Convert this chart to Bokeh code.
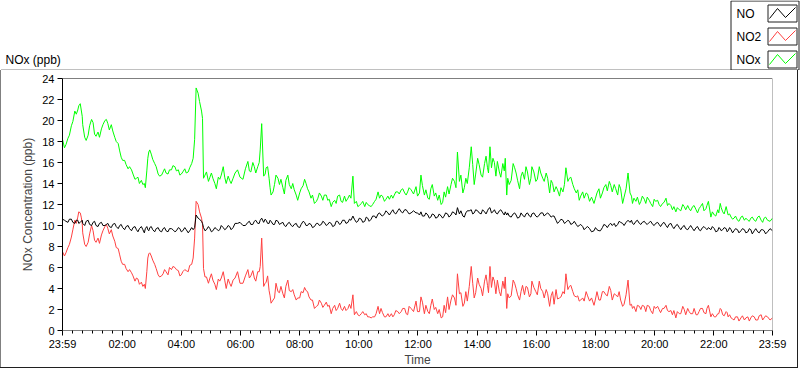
from bokeh.plotting import figure
from bokeh.layouts import column
from bokeh.models import FixedTicker, Span, Range1d
from bokeh.core.properties import value
from bokeh.embed import file_html
from bokeh.resources import INLINE

# ---------------- data (minutes after 23:59) ----------------
t_min = [0, 7, 14, 21, 28, 33, 38, 41, 48, 55, 62, 68, 75, 82, 89, 95, 102, 109, 116, 122,
         129, 136, 143, 150, 156, 163, 168, 173, 177, 183, 190, 197, 204, 210, 217, 224, 231, 238, 244, 251,
         258, 265, 268, 271, 275, 278, 282, 284, 286, 292, 299, 305, 312, 319, 326, 332, 339, 346,
         355, 366, 376, 382, 389, 396, 401, 404, 408, 413, 419, 423, 430, 437, 443, 450, 457, 464, 470, 477,
         484, 491, 497, 504, 511, 518, 525, 531, 538, 545, 552, 558, 565, 572, 579, 585, 589, 592, 599, 606,
         613, 619, 626, 633, 640, 646, 653, 660, 667, 673, 680, 687, 694, 700, 707,
         717, 724, 727, 734, 741, 747, 754, 761, 768, 774, 781, 788, 795, 801, 805, 812, 818, 825, 829, 835,
         842, 849, 856, 862, 867, 873, 879, 886, 893, 898, 901, 906, 914, 920, 927, 933, 940, 947, 952, 960,
         967, 974, 981, 988, 994, 1001, 1008, 1015, 1021, 1028, 1035, 1042, 1048, 1055, 1062, 1069,
         1078, 1084, 1088, 1095, 1102, 1109, 1115, 1119, 1126, 1132, 1136, 1143, 1147, 1151, 1156, 1163, 1170, 1176, 1183, 1190,
         1197, 1203, 1210, 1217, 1224, 1230, 1237, 1244, 1251, 1258, 1264, 1271, 1278, 1285, 1291, 1298, 1305, 1310, 1315, 1322,
         1329, 1334, 1339, 1346, 1350, 1356, 1362, 1369, 1376, 1383, 1390, 1396, 1403, 1410, 1417, 1423, 1430, 1440]

nox = [18.2, 17.7, 18.6, 19.9, 20.6, 21.4, 21.0, 19.6, 18.1, 19.5, 19.8, 18.5, 18.4, 19.6, 20.1, 19.1, 19.0, 18.0, 17.1, 16.2,
       15.8, 15.6, 14.9, 14.5, 14.0, 13.9, 13.6, 16.4, 17.2, 16.3, 15.6, 14.7, 15.1, 15.0, 15.3, 15.7, 15.2, 14.8, 15.1, 15.0,
       15.5, 16.4, 18.2, 23.1, 22.6, 21.8, 20.9, 20.2, 14.5, 15.1, 14.6, 14.5, 13.5, 14.4, 15.6, 14.0, 14.3, 14.5,
       15.3, 14.4, 16.1, 15.1, 15.6, 15.6, 17.2, 19.7, 14.7, 15.5, 14.5, 12.9, 13.9, 14.5, 14.4, 13.0, 14.8, 13.5, 13.4, 12.4,
       13.5, 14.4, 13.5, 12.6, 12.1, 12.6, 12.8, 12.9, 12.4, 11.8, 12.4, 12.8, 12.3, 12.8, 12.6, 12.6, 14.7, 12.1, 11.8, 12.1,
       11.8, 12.0, 11.8, 12.3, 13.2, 12.9, 12.3, 12.8, 12.9, 12.9, 13.2, 13.4, 13.1, 13.2, 13.4,
       13.7, 13.1, 14.8, 12.9, 12.6, 13.5, 12.8, 12.4, 12.0, 13.2, 13.7, 13.9, 14.2, 17.0, 14.2, 13.1, 14.5, 15.5, 17.5, 13.9,
       16.4, 14.8, 15.9, 15.5, 17.5, 16.4, 14.7, 15.1, 15.9, 16.4, 12.9, 13.9, 15.9, 15.0, 13.5, 15.1, 15.6, 13.9, 15.6, 14.2,
       15.6, 14.5, 15.0, 13.1, 14.0, 13.7, 12.8, 13.2, 15.5, 14.5, 13.9, 13.1, 12.4, 13.2, 13.1, 12.3,
       12.1, 13.1, 13.5, 13.1, 13.9, 14.2, 13.2, 13.9, 12.9, 13.5, 12.1, 13.5, 15.0, 13.1, 12.1, 12.3, 12.0, 12.8, 12.1, 12.4,
       11.8, 12.3, 12.0, 12.1, 12.6, 12.1, 11.5, 11.3, 11.5, 12.0, 11.5, 11.6, 11.8, 11.5, 11.6, 12.1, 11.6, 12.3, 10.8, 11.0,
       11.5, 12.1, 11.3, 11.8, 11.0, 10.8, 10.7, 10.5, 10.8, 10.5, 10.5, 10.7, 10.5, 10.8, 10.5, 10.7, 10.5, 10.7]

no2 = [7.5, 7.4, 8.2, 9.6, 10.2, 11.3, 10.8, 9.3, 8.0, 9.2, 9.5, 8.4, 8.3, 9.5, 10.1, 9.2, 9.0, 7.9, 7.2, 6.3,
       5.9, 5.8, 5.2, 5.0, 4.4, 4.2, 4.0, 6.9, 7.4, 6.7, 5.9, 5.1, 5.4, 5.6, 6.0, 6.1, 5.8, 5.2, 5.6, 5.7,
       6.2, 6.9, 8.8, 12.3, 12.0, 11.3, 10.7, 10.1, 5.9, 5.1, 5.0, 4.8, 3.9, 4.7, 5.6, 4.0, 4.5, 4.8,
       5.6, 4.5, 5.8, 5.2, 5.0, 5.6, 6.1, 8.8, 4.2, 4.6, 3.8, 2.6, 3.1, 3.7, 4.2, 3.1, 4.8, 3.7, 3.4, 3.1,
       3.7, 4.1, 3.7, 2.9, 2.1, 2.4, 2.6, 2.4, 2.3, 1.6, 2.4, 2.1, 2.1, 2.3, 2.1, 2.1, 3.4, 1.5, 1.5, 1.6,
       1.5, 1.3, 1.2, 1.3, 2.3, 2.1, 1.3, 1.6, 1.6, 1.5, 1.8, 1.8, 2.1, 1.5, 2.1,
       2.8, 1.8, 3.2, 1.6, 1.8, 2.4, 2.0, 1.6, 1.2, 2.4, 3.2, 2.9, 3.1, 5.4, 3.5, 2.3, 3.7, 4.2, 6.1, 3.1,
       5.0, 4.0, 4.7, 4.3, 6.1, 5.1, 3.5, 3.7, 4.7, 5.1, 2.1, 3.1, 4.8, 4.0, 2.9, 4.3, 4.2, 3.2, 4.7, 3.7,
       4.7, 3.7, 3.9, 2.3, 3.7, 3.9, 3.1, 3.7, 5.4, 4.2, 3.7, 3.2, 2.8, 3.1, 3.7, 2.8,
       2.4, 3.7, 2.9, 3.7, 3.4, 4.2, 2.9, 3.5, 3.2, 2.9, 2.3, 3.4, 4.8, 2.4, 2.1, 1.8, 2.3, 2.4, 1.8, 2.3,
       1.6, 2.1, 2.0, 2.1, 2.4, 1.8, 1.5, 1.2, 1.6, 2.3, 1.5, 1.8, 1.6, 1.5, 1.8, 2.1, 1.6, 2.4, 1.3, 1.3,
       1.6, 2.1, 1.5, 1.8, 1.3, 1.2, 1.0, 1.3, 1.2, 1.0, 1.3, 1.2, 1.3, 1.0, 1.5, 1.2, 1.3, 1.2]

no = [10.6, 10.4, 10.6, 10.3, 10.5, 10.2, 10.4, 10.2, 10.4, 10.1, 10.3, 10.0, 10.2, 10.0, 10.1, 9.9, 10.1, 9.9, 10.0, 9.8,
      9.9, 9.7, 9.8, 9.6, 9.7, 9.6, 9.7, 9.6, 9.8, 9.6, 9.7, 9.5, 9.7, 9.5, 9.7, 9.6, 9.5, 9.7, 9.5, 9.6,
      9.5, 9.6, 9.8, 11.0, 10.7, 10.6, 10.4, 10.2, 9.8, 9.6, 9.7, 9.5, 9.7, 9.6, 9.8, 9.7, 9.9, 9.8,
      10.2, 10.0, 10.3, 10.1, 10.4, 10.2, 10.5, 10.7, 10.3, 10.5, 10.2, 10.4, 10.1, 10.4, 10.2, 10.0, 10.2, 10.0, 10.1, 9.9,
      10.1, 10.3, 10.0, 10.1, 9.9, 10.2, 10.1, 10.3, 10.1, 10.2, 10.0, 10.4, 10.2, 10.5, 10.3, 10.5, 10.9, 10.6, 10.4, 10.6,
      10.4, 10.7, 10.6, 10.9, 11.1, 11.0, 11.1, 11.2, 11.3, 11.2, 11.4, 11.3, 11.5, 11.3, 11.2,
      11.2, 11.0, 11.3, 10.9, 11.0, 10.8, 11.0, 10.8, 10.9, 10.9, 11.1, 11.0, 11.2, 11.7, 11.1, 10.9, 11.2, 11.4, 11.5, 11.2,
      11.4, 11.1, 11.3, 11.4, 11.7, 11.3, 11.2, 11.4, 11.2, 11.3, 11.0, 10.9, 11.1, 11.0, 10.8, 11.0, 11.1, 10.9, 11.1, 10.9,
      11.0, 11.2, 11.1, 11.0, 10.9, 10.5, 10.4, 10.5, 10.3, 10.4, 10.2, 10.1, 10.0, 9.9, 9.8, 9.7,
      9.5, 9.6, 9.5, 9.8, 10.0, 10.1, 10.0, 10.2, 10.1, 10.3, 10.2, 10.3, 10.5, 10.3, 10.2, 10.4, 10.2, 10.3, 10.2, 10.3,
      10.1, 10.2, 10.1, 10.2, 10.0, 10.1, 9.9, 10.0, 9.8, 9.9, 9.7, 9.8, 9.7, 9.8, 9.6, 9.8, 9.7, 9.8, 9.6, 9.7,
      9.5, 9.7, 9.6, 9.7, 9.5, 9.6, 9.5, 9.6, 9.5, 9.6, 9.4, 9.6, 9.5, 9.4, 9.6, 9.5, 9.4, 9.5]

# readings taken between the samples above (short-term fluctuations)
t_mid = [4, 11, 18, 25, 31, 36, 40, 45, 52, 59, 65, 72, 79, 86, 92, 99, 106, 113, 119, 126,
         133, 140, 147, 153, 160, 166, 171, 175, 180, 187, 194, 201, 207, 214, 221, 228, 235, 241, 248, 255,
         262, 289, 296, 302, 309, 316, 322, 329, 336, 342, 350,
         360, 371, 379, 386, 392, 399, 411, 416, 421, 427, 433, 440, 447, 453, 460, 467, 474, 481, 488, 494,
         500, 507, 515, 521, 528, 535, 541, 548, 555, 562, 568, 575, 582, 596, 602, 609, 616, 622, 629, 636,
         643, 649, 656, 663, 670, 676, 683, 690, 697, 703, 712,
         720, 730, 737, 744, 750, 757, 764, 771, 777, 784, 791, 798, 808, 815, 821, 832, 838, 845, 852, 859,
         864, 870, 876, 882, 889, 896, 903, 910, 917, 923, 930, 937, 943, 950, 956, 963, 970, 977, 984, 991,
         997, 1004, 1011, 1018, 1025, 1031, 1038, 1045, 1051, 1058, 1065, 1073,
         1081, 1091, 1098, 1105, 1112, 1122, 1129, 1139, 1154, 1159, 1166, 1173, 1180, 1186, 1193, 1200, 1207, 1213, 1220, 1227,
         1234, 1240, 1247, 1254, 1261, 1268, 1274, 1281, 1288, 1294, 1301, 1307, 1318, 1325, 1331, 1336, 1342, 1348, 1353, 1359,
         1365, 1372, 1379, 1386, 1393, 1399, 1406, 1413, 1420, 1426, 1435]

nox_mid = [17.4, 18.3, 19.5, 20.9, 21.0, 21.6, 20.4, 18.4, 18.6, 20.1, 18.7, 18.9, 19.2, 20.0, 19.7, 19.6, 18.4, 17.8, 16.5, 16.2,
           15.4, 15.3, 14.4, 14.6, 14.3, 14.0, 15.2, 17.0, 16.8, 15.9, 14.9, 14.8, 15.4, 14.9, 15.3, 15.6, 15.3, 14.9, 15.4, 15.1,
           15.9, 14.8, 14.2, 15.0, 14.0, 14.6, 14.8, 14.6, 14.7, 14.0, 15.0,
           14.6, 15.4, 15.2, 16.0, 15.0, 16.0, 14.9, 15.6, 13.6, 13.2, 14.8, 13.9, 13.6, 14.3, 13.9, 14.0, 12.9, 13.1, 13.8, 14.0,
           13.2, 12.9, 12.3, 13.1, 12.4, 12.9, 12.5, 12.2, 12.1, 12.9, 12.2, 12.3, 12.9, 12.3, 11.9, 12.3, 12.2, 11.9, 12.0, 12.5,
           12.6, 12.8, 12.5, 12.5, 12.6, 13.2, 13.0, 13.5, 12.9, 13.6, 13.0,
           12.8, 13.8, 13.4, 12.5, 13.9, 13.1, 12.9, 12.2, 12.7, 13.0, 14.5, 13.6, 14.8, 13.6, 14.0, 15.8, 14.9, 15.8, 14.6, 16.6,
           15.0, 15.5, 16.0, 16.1, 14.6, 15.2, 14.5, 14.3, 15.5, 14.3, 14.7, 14.4, 15.1, 14.5, 15.1, 14.4, 15.0, 14.2, 14.5, 14.3,
           13.2, 13.4, 13.6, 13.9, 14.2, 14.6, 13.5, 13.4, 12.8, 12.6, 13.0, 12.7,
           12.6, 12.6, 13.6, 13.3, 13.8, 13.5, 13.9, 12.7, 12.8, 12.6, 12.7, 12.3, 12.5, 12.7, 12.1, 12.5, 12.4, 11.8, 12.2, 11.9,
           11.9, 11.8, 11.7, 11.4, 11.8, 11.9, 11.4, 11.9, 11.2, 11.8, 11.4, 11.9, 11.3, 10.9, 11.2, 11.7, 11.1, 11.4, 11.1, 10.6,
           10.9, 10.4, 10.9, 10.7, 10.4, 10.8, 10.4, 10.9, 10.3, 10.8, 10.4]

no2_mid = [7.1, 7.9, 8.9, 10.5, 10.8, 11.2, 10.2, 8.2, 8.4, 10.0, 8.6, 8.8, 9.1, 9.9, 9.7, 9.6, 8.5, 7.8, 6.6, 6.3,
           5.6, 5.5, 4.7, 4.9, 4.6, 4.4, 5.6, 7.3, 7.1, 6.3, 5.3, 5.2, 5.8, 5.3, 5.8, 6.0, 5.7, 5.3, 5.8, 5.6,
           6.3, 5.1, 4.5, 5.4, 4.4, 4.9, 5.0, 4.8, 4.9, 4.2, 5.0,
           4.5, 5.2, 5.0, 5.7, 4.7, 5.6, 4.5, 5.2, 3.3, 2.9, 4.5, 3.6, 3.5, 4.2, 3.8, 3.9, 2.9, 3.1, 3.6, 3.8,
           3.2, 2.9, 2.3, 2.9, 2.2, 2.7, 2.4, 2.1, 1.9, 2.6, 1.9, 1.9, 2.5, 1.8, 1.4, 1.8, 1.6, 1.3, 1.3, 1.6,
           1.6, 1.7, 1.3, 1.3, 1.3, 1.9, 1.6, 2.1, 1.6, 2.3, 1.8,
           1.8, 2.7, 2.4, 1.6, 3.0, 2.2, 2.0, 1.3, 1.7, 2.0, 3.4, 2.4, 3.6, 2.6, 2.8, 4.5, 3.6, 4.4, 3.3, 5.3,
           3.6, 4.1, 4.7, 4.8, 3.3, 4.0, 3.5, 3.3, 4.5, 3.4, 3.7, 3.4, 4.1, 3.5, 4.1, 3.4, 4.0, 3.1, 3.5, 3.3,
           2.5, 3.0, 3.2, 3.5, 3.9, 4.3, 3.3, 3.3, 2.9, 2.8, 3.3, 3.1,
           3.0, 2.9, 3.7, 3.3, 3.8, 3.4, 3.7, 2.5, 2.5, 2.3, 2.4, 2.0, 2.3, 2.4, 1.9, 2.3, 2.3, 1.7, 2.1, 1.9,
           1.9, 1.9, 1.8, 1.6, 2.0, 2.1, 1.6, 2.1, 1.5, 2.1, 1.7, 2.1, 1.6, 1.3, 1.6, 2.0, 1.4, 1.7, 1.5, 1.1,
           1.3, 0.9, 1.4, 1.2, 0.9, 1.4, 1.0, 1.4, 1.0, 1.4, 1.0]

no_mid = [10.5, 10.3, 10.6, 10.2, 10.5, 10.3, 10.5, 10.0, 10.5, 10.0, 10.4, 9.9, 10.3, 10.0, 10.2, 9.8, 10.2, 9.7, 10.1, 9.6,
          10.0, 9.5, 9.9, 9.4, 9.9, 9.3, 9.9, 9.5, 9.9, 9.4, 9.8, 9.4, 9.8, 9.4, 9.7, 9.4, 9.8, 9.4, 9.8, 9.3,
          9.8, 9.5, 9.9, 9.4, 9.8, 9.5, 10.0, 9.6, 10.0, 9.6, 10.2,
          10.3, 10.0, 10.4, 10.1, 10.5, 10.2, 10.6, 10.2, 10.5, 10.1, 10.5, 10.1, 10.3, 9.9, 10.3, 9.9, 10.2, 9.8, 10.4, 10.0,
          10.2, 9.8, 10.2, 10.0, 10.4, 10.0, 10.3, 9.9, 10.4, 10.1, 10.5, 10.2, 10.6, 10.3, 10.7, 10.3, 10.8, 10.4, 10.9, 10.7,
          11.2, 10.9, 11.4, 11.0, 11.5, 11.1, 11.6, 11.2, 11.5, 11.1, 11.4,
          11.2, 10.9, 11.2, 10.7, 11.1, 10.7, 11.1, 10.7, 11.2, 10.8, 11.3, 11.0, 11.4, 10.8, 11.4, 11.1, 11.5, 11.2, 11.5, 11.1,
          11.6, 11.2, 11.5, 11.1, 11.5, 11.0, 11.2, 10.8, 11.2, 10.7, 11.2, 10.8, 11.2, 10.8, 11.2, 10.8, 11.2, 10.9, 11.2, 10.8,
          10.9, 10.2, 10.6, 10.2, 10.5, 10.1, 10.4, 9.9, 10.1, 9.6, 9.9, 9.4,
          9.8, 9.5, 10.1, 9.8, 10.2, 9.9, 10.4, 10.0, 10.5, 10.1, 10.5, 10.1, 10.4, 10.1, 10.4, 10.0, 10.3, 9.9, 10.3, 9.8,
          10.2, 9.7, 10.1, 9.6, 10.0, 9.6, 10.0, 9.5, 9.9, 9.5, 9.9, 9.6, 9.9, 9.4, 9.8, 9.5, 9.8, 9.4, 9.8, 9.3,
          9.7, 9.3, 9.7, 9.3, 9.7, 9.2, 9.7, 9.3, 9.6, 9.2, 9.7]

x_tick_pos = [0, 121, 241, 361, 481, 601, 721, 841, 961, 1081, 1201, 1321, 1440]
x_tick_labels = ["23:59", "02:00", "04:00", "06:00", "08:00", "10:00", "12:00",
                 "14:00", "16:00", "18:00", "20:00", "22:00", "23:59"]
y_tick_pos = [0, 2, 4, 6, 8, 10, 12, 14, 16, 18, 20, 22, 24]
series_names = ["NO", "NO2", "NOx"]
series_colors = ["#000000", "#FF4040", "#00FF00"]

# merge the two sets of readings in time order
rows = sorted(zip(t_min + t_mid, nox + nox_mid, no2 + no2_mid, no + no_mid))
T_ALL = [r[0] for r in rows]
NOX_ALL = [r[1] for r in rows]
NO2_ALL = [r[2] for r in rows]
NO_ALL = [r[3] for r in rows]

FONT = "Liberation Sans"
W = 800
TOP_H = 70          # header strip (graph caption + legend)
MAIN_H = 299        # graph body

# ---------------- header strip: caption and legend (pixel coordinates) ----------------
top = figure(width=W, height=TOP_H, output_backend="svg", toolbar_location=None,
             x_range=Range1d(0, W), y_range=Range1d(TOP_H, 0),
             x_axis_location=None, y_axis_location=None, min_border=0)
top.frame_align = False
top.outline_line_color = None
top.grid.visible = False
top.background_fill_color = "white"
top.border_fill_color = "white"

top.text(x=[5], y=[59], text=["NOx (ppb)"], text_font=value(FONT), text_font_size=value("12px"),
         text_baseline="middle", text_align="left", text_color="black")
top.line([0.5, 730.5], [69.5, 69.5], line_color="#808080", line_width=1)
top.line([730.5, 730.5, 798.5, 798.5, 730.5], [69.5, 0.5, 0.5, 69.5, 69.5], line_color="#202020", line_width=1)

box_tops = [4, 27, 50]
for name, col, bt in zip(series_names, series_colors, box_tops):
    bh = 17
    top.line([767.5, 796.5, 796.5, 767.5, 767.5], [bt + 0.5, bt + 0.5, bt + bh + 0.5, bt + bh + 0.5, bt + 0.5],
             line_color="#202020", line_width=1)
    top.line([769, 777, 785, 795], [bt + 14, bt + 4, bt + 13, bt + 3], line_color=col, line_width=1)
    top.text(x=[736], y=[bt + bh / 2 + 0.5], text=[name], text_font=value(FONT), text_font_size=value("12px"),
             text_baseline="middle", text_align="left", text_color="black")

# ---------------- graph body ----------------
p = figure(width=W, height=MAIN_H, output_backend="svg", toolbar_location=None,
           x_range=Range1d(0, 1440), y_range=Range1d(0, 24),
           min_border_left=62, min_border_right=28, min_border_top=8, min_border_bottom=39,
           styles={"box-shadow": "inset 0 -1px 0 0 #ffffff, inset -2px 0 0 0 #ffffff, "
                                 "inset 0 -2px 0 0 #202020, inset -3px 0 0 0 #202020, "
                                 "inset 1px 0 0 0 #808080"})
p.frame_align = False
p.outline_line_color = None
p.grid.visible = False
p.background_fill_color = "white"
p.border_fill_alpha = 0

p.line(T_ALL, NOX_ALL, line_color=series_colors[2], line_width=1)
p.line(T_ALL, NO2_ALL, line_color=series_colors[1], line_width=1)
p.line(T_ALL, NO_ALL, line_color=series_colors[0], line_width=1)

minor = [1 + 20 * k for k in range(1, 72) if k % 6 != 0]
xa = p.xaxis[0]
xa.ticker = FixedTicker(ticks=x_tick_pos, minor_ticks=minor)
xa.major_label_overrides = {tp: lab for tp, lab in zip(x_tick_pos, x_tick_labels)}
xa.axis_line_color = "#808080"
xa.major_tick_line_color = "black"
xa.minor_tick_line_color = "black"
xa.major_tick_out = 5
xa.major_tick_in = 0
xa.minor_tick_out = 3
xa.minor_tick_in = 0
xa.major_label_standoff = 2
xa.major_label_text_font = FONT
xa.major_label_text_font_size = "11px"
xa.major_label_text_color = "black"
xa.axis_label = "Time"
xa.axis_label_text_font = FONT
xa.axis_label_text_font_size = "12px"
xa.axis_label_text_font_style = "normal"
xa.axis_label_standoff = 0

ya = p.yaxis[0]
ya.ticker = FixedTicker(ticks=y_tick_pos, minor_ticks=[])
ya.axis_line_color = "black"
ya.major_tick_line_color = "black"
ya.major_tick_out = 5
ya.major_tick_in = 0
ya.major_label_standoff = 3
ya.major_label_text_font = FONT
ya.major_label_text_font_size = "11px"
ya.major_label_text_color = "black"
ya.axis_label = "NOx Concentration (ppb)"
ya.axis_label_text_font = FONT
ya.axis_label_text_font_size = "12px"
ya.axis_label_text_font_style = "normal"
ya.axis_label_standoff = 4

p.add_layout(Span(location=24, dimension="width", line_color="black", line_width=1))
p.add_layout(Span(location=1440, dimension="height", line_color="#808080", line_width=1))

layout = column(top, p, spacing=0)

open("out.html", "w").write(file_html(layout, INLINE))
